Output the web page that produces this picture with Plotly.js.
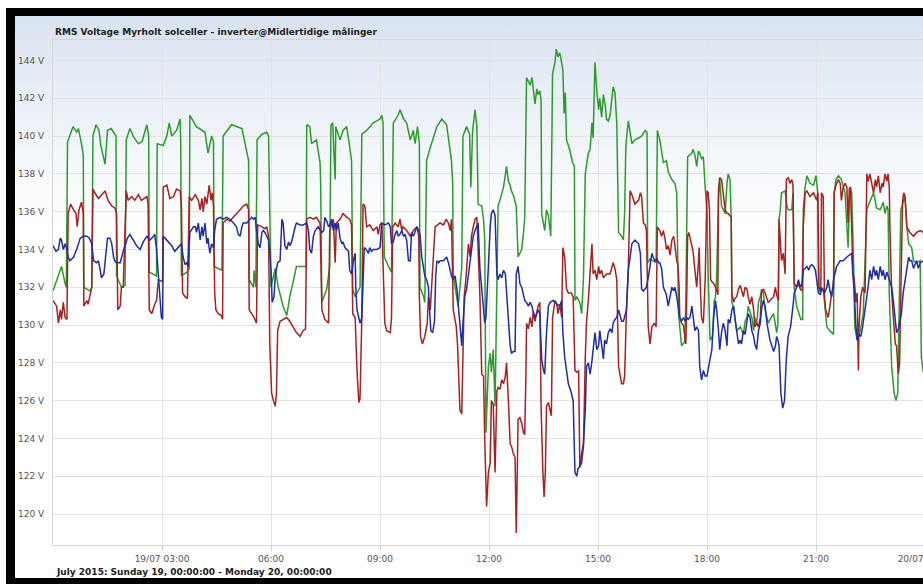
<!DOCTYPE html>
<html><head><meta charset="utf-8">
<script src="https://cdn.plot.ly/plotly-3.0.1.min.js"></script>
<style>
html,body{margin:0;padding:0;overflow:hidden;background:#fff;width:923px;height:584px}
#frame{position:absolute;left:6px;top:8px;width:1100px;height:700px;background:#000}
#chart{position:absolute;left:15px;top:16px;width:1000px;height:562px;background:linear-gradient(to bottom,#d9e2f0 0px,#e9eff7 80px,#ffffff 210px)}
</style></head><body>
<div id="frame"></div><div id="chart"></div>
<script>
// time in minutes after 2015-07-19 00:00, values in volts
const greenT=[0,8,14,20,22,24,33,39,42,47,50,51,55,61,64,66,71,76,79,86,90,96,104,105,113,119,121,127,134,141,147,155,158,159,171,172,182,188,192,196,204,210,211,212,221,225,226,237,251,254,256,262,265,266,279,281,295,312,320,323,324,331,332,335,337,345,353,356,360,367,372,380,386,391,398,402,418,419,424,427,435,441,442,444,452,457,459,462,464,466,467,474,479,485,490,493,495,499,507,510,518,529,540,543,545,547,554,559,562,570,573,579,584,590,595,598,602,605,606,612,614,617,623,634,642,650,658,660,661,669,672,675,677,683,688,690,693,697,700,702,708,711,713,715,719,722,724,727,730,733,735,738,744,749,752,755,757,760,763,765,768,774,777,779,782,785,788,791,793,796,799,801,804,806,807,812,815,818,822,825,829,831,834,837,842,844,846,848,853,858,861,862,865,870,873,876,879,881,884,887,890,892,895,898,901,903,906,909,912,914,917,920,923,925,928,931,934,939,942,944,946,950,956,961,967,972,978,981,982,986,991,996,998,1002,1008,1013,1016,1022,1027,1030,1031,1033,1038,1043,1045,1048,1055,1057,1060,1063,1066,1068,1071,1074,1077,1080,1082,1085,1089,1092,1094,1096,1099,1101,1104,1110,1113,1115,1118,1120,1121,1124,1126,1129,1135,1140,1143,1146,1148,1154,1157,1159,1162,1165,1168,1170,1173,1176,1179,1181,1184,1190,1195,1197,1199,1201,1203,1209,1212,1214,1220,1222,1224,1228,1235,1238,1239,1242,1245,1250,1256,1260,1263,1264,1267,1272,1278,1280,1286,1289,1290,1293,1297,1302,1308,1311,1313,1316,1319,1322,1324,1328,1333,1338,1344,1346,1352,1355,1360,1366,1371,1374,1377,1379,1381,1385,1389,1392,1395,1396,1398,1400,1403,1407,1410,1413,1418,1421,1426,1432,1434,1437];
const greenV=[131.8,132.6,133.1,132.2,132.0,139.7,140.5,140.2,140.4,139.6,139.0,132.0,131.9,131.8,132.0,140.0,140.6,140.3,139.5,138.5,140.3,140.4,140.0,132.6,132.0,132.1,139.8,140.4,139.9,139.6,139.7,140.6,140.0,132.8,132.6,139.6,139.5,140.0,140.7,140.0,140.3,140.9,139.5,132.6,132.8,133.0,141.1,140.5,140.2,139.6,139.1,140.0,139.7,133.1,132.9,140.0,140.6,140.4,139.2,138.7,132.4,132.0,132.9,132.0,139.8,140.1,140.2,140.0,132.0,133.0,132.0,131.0,130.5,131.5,132.5,133.1,133.1,140.6,140.5,139.6,139.8,138.6,137.5,131.2,131.9,133.1,140.6,140.7,139.0,137.7,140.5,139.8,140.3,140.5,139.4,138.7,131.9,131.5,132.0,140.1,140.3,140.7,140.9,141.1,140.7,133.6,133.1,132.8,140.7,141.1,141.4,140.9,140.7,139.8,140.3,139.6,140.5,139.6,132.0,131.5,131.2,138.7,139.4,140.5,140.9,140.6,138.7,137.5,132.6,131.0,132.0,133.0,140.0,140.5,140.1,137.3,140.3,141.4,140.5,136.4,136.3,135.6,134.5,124.3,127.8,128.5,127.5,128.7,125.7,132.7,136.3,136.6,137.3,138.4,137.6,137.4,137.1,136.9,136.6,136.3,133.6,134.0,134.9,135.7,143.1,142.9,142.7,143.1,142.5,141.7,142.5,142.2,142.4,141.9,135.9,135.0,136.1,135.8,134.7,143.3,143.9,144.6,144.2,144.4,143.5,141.2,142.3,139.8,139.3,138.6,138.4,131.3,131.5,131.2,130.6,132.5,138.0,138.5,139.1,139.3,140.7,139.9,143.9,142.4,141.4,142.0,141.0,142.2,141.6,140.9,140.8,141.1,142.1,142.6,142.3,140.7,134.9,134.7,134.5,136.0,139.5,140.8,139.6,139.8,139.9,140.0,140.3,140.2,133.3,133.5,133.4,133.3,140.3,139.8,138.6,138.7,138.1,137.7,137.5,137.0,135.0,130.6,128.9,129.1,131.2,138.9,139.1,139.3,139.0,138.4,139.2,139.1,138.8,138.9,137.3,135.9,132.6,129.2,129.4,131.3,131.5,132.6,136.8,137.7,136.3,135.9,137.5,138.0,137.7,135.7,131.2,130.9,130.4,129.7,129.9,129.5,130.2,130.4,131.0,130.4,129.7,130.4,130.0,131.2,131.5,131.9,131.7,130.8,130.4,130.1,130.3,130.6,129.6,130.0,135.6,136.1,137.0,137.1,136.3,136.1,136.1,137.0,132.0,131.0,130.3,130.3,136.1,137.3,137.9,137.5,137.4,137.9,137.0,132.0,131.8,131.9,129.9,129.8,129.6,129.5,137.0,137.7,137.9,137.7,137.0,135.2,134.1,137.3,137.0,133.4,129.9,129.2,129.7,130.6,136.1,136.3,136.8,137.0,136.2,136.1,136.5,135.9,136.3,136.1,131.7,127.8,126.4,126.0,126.4,128.0,131.3,136.1,136.4,136.8,135.2,134.3,134.1,133.4,133.3,133.4,128.3,127.5];

const redT=[0,6,9,12,14,17,20,23,25,29,34,38,40,43,47,50,51,56,58,61,64,66,69,75,80,86,91,97,102,105,107,111,113,116,121,124,130,135,141,146,155,157,159,163,168,171,174,179,181,182,188,193,199,204,210,212,214,218,222,225,229,235,240,243,246,248,251,254,258,261,263,265,267,269,273,278,280,281,287,292,298,303,309,314,320,323,324,328,332,336,338,345,350,353,356,358,361,364,367,369,371,375,380,386,391,397,402,408,413,417,419,424,430,435,441,444,449,455,457,463,466,468,474,479,485,490,493,495,499,502,505,507,510,512,515,518,523,529,535,537,540,543,546,548,551,557,559,561,565,570,573,576,578,584,590,595,601,604,605,607,610,614,618,620,623,626,631,639,645,649,653,656,658,661,666,668,672,675,677,679,682,686,689,691,694,697,700,702,705,708,711,713,716,719,722,724,727,730,733,735,738,741,744,747,749,752,755,757,760,763,765,767,768,771,774,777,779,781,782,785,788,791,793,796,799,801,804,806,809,811,813,815,818,821,823,825,829,832,834,837,840,842,845,848,851,856,859,862,865,868,870,873,876,879,881,884,887,890,892,895,898,901,903,906,909,914,920,925,928,931,934,937,939,942,944,947,950,953,956,961,967,970,972,975,978,980,982,983,986,989,993,996,998,1002,1005,1008,1011,1013,1016,1019,1022,1025,1027,1030,1032,1034,1035,1038,1041,1044,1045,1046,1048,1050,1053,1057,1060,1063,1066,1067,1068,1071,1074,1077,1080,1082,1084,1086,1088,1091,1094,1096,1098,1099,1101,1104,1107,1110,1113,1115,1120,1121,1124,1126,1129,1132,1135,1137,1140,1143,1146,1148,1151,1154,1157,1159,1162,1165,1168,1170,1173,1176,1179,1181,1184,1190,1193,1195,1198,1199,1201,1203,1206,1209,1211,1214,1217,1220,1222,1224,1228,1231,1234,1237,1239,1242,1245,1250,1256,1259,1261,1263,1265,1268,1269,1272,1274,1276,1280,1283,1286,1289,1290,1293,1297,1300,1302,1305,1308,1311,1313,1315,1317,1321,1323,1326,1328,1330,1331,1334,1337,1341,1344,1346,1349,1352,1355,1358,1360,1363,1366,1369,1371,1374,1377,1379,1381,1382,1385,1388,1391,1393,1396,1398,1400,1403,1405,1407,1410,1413,1415,1421,1426,1432,1437];
const redV=[131.3,131.0,130.1,130.8,130.3,131.2,130.4,130.3,135.9,136.4,136.1,135.9,135.2,136.1,136.5,135.9,131.0,131.3,131.1,131.5,132.0,137.2,137.0,136.7,136.9,137.1,136.6,136.3,136.2,135.9,130.8,131.0,132.0,132.0,137.1,136.6,136.8,136.6,136.9,136.6,136.8,136.4,130.8,130.6,131.1,131.3,132.4,132.3,132.3,137.3,137.4,136.7,136.8,137.2,137.1,136.4,131.7,131.5,131.4,136.8,136.6,136.9,136.6,136.1,136.7,136.0,136.8,136.4,137.4,136.6,137.0,136.3,131.7,130.8,130.6,130.5,130.3,135.4,135.6,135.5,135.7,135.9,136.1,136.3,136.4,136.1,130.8,130.6,130.4,130.1,135.3,135.2,135.1,135.2,134.7,129.0,126.4,126.0,125.7,126.4,129.7,130.2,130.3,130.4,130.2,129.9,129.6,129.4,129.7,129.8,135.6,135.7,135.6,135.7,135.4,130.8,130.3,130.1,135.0,135.6,133.3,135.4,135.6,135.9,135.7,135.6,135.3,130.6,130.4,127.6,125.9,126.1,130.4,136.4,136.3,135.2,135.3,135.0,135.2,134.8,135.3,135.4,131.2,130.1,129.7,129.6,130.4,135.2,135.4,135.2,135.6,135.0,135.2,135.0,134.7,135.0,135.2,134.7,131.5,129.4,129.0,129.4,130.1,131.5,130.8,132.5,135.2,135.4,135.3,135.6,135.4,135.0,135.6,130.8,129.9,129.0,125.5,125.3,129.0,131.5,132.5,134.3,133.6,134.7,135.2,135.6,135.7,134.3,131.5,127.4,127.3,123.9,120.4,122.2,122.7,126.0,125.8,122.2,126.5,126.7,126.6,127.1,126.9,127.3,128.0,126.0,123.7,123.6,123.2,123.0,119.0,122.8,125.0,125.1,124.8,124.3,124.2,127.4,130.1,129.8,130.4,129.9,130.7,130.2,130.6,131.0,131.2,125.7,122.2,120.9,122.2,125.7,125.9,125.4,125.2,130.4,131.3,131.1,130.6,131.1,130.4,134.1,133.6,131.9,131.7,131.7,131.5,127.6,127.5,127.6,122.5,122.7,123.6,128.3,130.1,131.3,133.1,134.3,132.7,132.9,132.4,133.1,132.7,132.9,132.5,132.7,132.7,133.3,133.0,132.4,127.8,127.1,126.9,126.9,127.3,130.8,132.9,137.1,136.9,136.4,136.6,137.0,136.8,135.4,135.3,135.0,132.4,129.9,129.0,129.9,130.1,129.9,135.2,135.0,134.7,135.0,134.5,134.0,134.2,133.7,134.5,134.7,134.2,133.4,133.2,132.0,130.4,130.1,130.0,129.4,129.0,130.4,134.7,134.9,134.5,133.9,132.9,132.0,133.4,134.1,132.9,130.4,130.1,132.4,137.1,137.0,136.1,132.4,132.3,132.2,132.0,131.8,131.6,137.1,137.8,137.7,137.0,136.1,135.9,135.9,135.7,131.7,131.2,131.4,131.5,131.9,132.1,131.9,131.5,132.0,131.9,131.5,131.1,131.5,130.8,129.9,130.1,129.9,130.4,131.7,131.9,131.7,131.4,131.2,131.3,131.5,132.0,131.6,131.3,135.6,134.5,133.4,133.8,132.7,137.7,137.8,137.5,137.7,137.4,132.2,132.0,132.2,131.9,131.8,135.2,137.0,137.1,136.8,137.0,136.8,136.6,137.0,132.0,131.7,137.0,136.8,131.5,130.8,130.4,131.0,131.7,132.0,137.0,137.4,137.7,137.5,136.6,137.3,137.5,137.3,135.4,137.2,137.3,132.7,132.5,131.2,131.7,127.6,129.9,131.5,132.0,131.7,138.0,137.6,138.0,137.5,137.0,137.7,137.3,137.9,137.0,137.5,137.3,138.0,137.6,138.0,137.3,135.2,131.7,130.3,129.0,128.9,127.4,128.0,131.7,136.6,137.0,136.8,135.2,135.0,134.9,134.7,134.9,135.0,134.9];

const blueT=[0,5,9,12,14,17,20,23,25,28,34,39,45,50,56,60,64,67,72,75,78,80,84,88,90,94,97,100,102,105,111,115,119,123,127,133,138,144,149,155,160,166,168,171,174,177,179,181,182,185,190,196,201,207,212,215,218,221,223,226,232,235,237,240,243,246,248,251,254,256,259,262,265,267,270,276,281,287,292,298,303,306,309,312,314,320,325,328,331,334,336,339,342,345,347,350,353,356,358,360,362,365,367,371,375,378,380,383,386,389,391,394,400,402,408,413,419,422,424,427,430,433,438,444,447,449,452,455,457,460,463,466,468,471,474,477,479,482,488,490,493,496,499,500,502,505,507,510,512,514,517,521,523,526,529,535,540,543,548,554,557,559,562,565,568,570,573,576,579,581,584,587,590,592,595,598,601,604,606,609,612,614,617,620,621,624,627,630,632,634,637,639,645,650,653,656,658,661,664,667,669,672,675,677,680,683,686,689,691,694,697,700,702,705,708,711,713,715,719,722,724,727,730,733,735,738,741,744,747,749,752,755,757,760,763,765,768,771,774,777,779,782,785,788,791,793,796,799,801,804,807,810,812,815,818,821,826,832,837,840,842,845,851,856,859,862,865,867,870,873,876,879,881,884,887,890,892,895,898,901,903,906,909,911,914,917,920,923,925,928,931,934,937,939,942,944,947,950,953,956,961,967,970,972,975,978,980,983,986,989,991,994,997,1000,1002,1005,1008,1011,1013,1016,1019,1022,1025,1027,1030,1033,1035,1038,1041,1044,1046,1049,1052,1055,1057,1060,1063,1066,1068,1071,1074,1077,1080,1082,1085,1088,1091,1094,1096,1099,1101,1104,1107,1110,1113,1115,1118,1121,1124,1126,1129,1132,1135,1137,1140,1143,1146,1148,1151,1154,1157,1159,1162,1165,1168,1170,1173,1176,1179,1181,1184,1187,1190,1193,1195,1197,1199,1202,1205,1208,1211,1214,1218,1222,1224,1228,1231,1234,1237,1239,1242,1245,1248,1250,1253,1256,1259,1261,1264,1267,1269,1272,1274,1278,1280,1283,1286,1289,1292,1294,1300,1305,1311,1316,1319,1321,1323,1326,1328,1331,1334,1337,1341,1344,1346,1349,1352,1355,1358,1360,1363,1366,1369,1371,1374,1377,1379,1382,1385,1388,1391,1393,1396,1399,1401,1404,1407,1410,1413,1415,1418,1421,1424,1426,1429,1432,1437];
const blueV=[134.2,133.9,134.0,134.6,134.5,134.0,134.3,134.0,133.6,133.4,133.6,134.0,134.6,134.7,134.7,134.6,134.3,133.4,133.3,133.4,132.9,132.5,132.7,134.0,134.6,134.6,134.3,133.6,133.4,133.3,133.3,133.8,134.2,134.6,134.8,134.5,134.2,134.0,134.4,134.7,134.5,134.7,134.8,134.0,132.6,131.0,130.4,130.3,134.7,134.6,134.4,134.2,133.9,134.1,134.3,133.6,133.2,133.3,133.1,134.9,135.2,135.2,134.9,135.4,134.5,135.2,134.7,135.4,134.3,134.6,133.8,134.3,134.1,135.0,135.6,135.7,135.6,135.7,135.6,135.4,135.2,134.8,134.7,135.2,135.4,135.4,135.6,135.7,135.6,135.7,135.0,134.3,134.1,134.9,135.0,134.9,134.7,134.5,133.8,132.9,131.2,131.5,132.6,133.3,133.4,135.6,135.4,134.2,134.0,134.4,134.2,134.4,135.2,135.4,135.3,135.3,135.4,135.0,134.0,133.8,134.7,135.0,135.2,134.9,135.0,135.7,135.5,135.2,135.3,135.6,135.0,135.4,135.0,135.4,134.6,134.3,134.4,134.1,133.9,132.9,132.7,133.4,133.8,132.0,130.8,130.3,130.1,130.4,132.6,134.1,134.0,133.8,134.1,133.9,134.0,134.0,134.1,135.4,135.3,135.4,135.2,134.3,134.4,134.8,135.0,134.7,134.8,135.0,134.7,134.8,134.5,133.4,133.4,134.9,134.7,135.0,135.2,135.0,134.8,133.6,132.9,132.6,132.4,132.0,131.2,129.7,129.6,130.2,132.6,133.4,133.3,133.4,133.4,133.6,133.3,132.9,132.6,132.4,132.6,131.9,131.2,130.3,128.9,130.1,131.5,131.9,132.6,133.4,134.0,134.7,135.0,135.2,135.4,133.0,131.9,131.0,130.1,130.4,133.6,135.2,135.9,136.1,135.8,132.7,132.4,132.7,132.5,132.9,132.7,131.7,130.1,128.9,128.5,128.6,128.6,132.7,133.1,132.2,132.0,131.5,131.3,131.2,131.0,131.2,131.0,130.7,130.4,130.6,130.8,130.6,128.2,127.6,127.4,129.6,131.0,131.2,131.3,131.1,131.0,131.3,129.6,128.3,126.9,126.4,126.0,122.2,122.0,122.4,122.5,123.2,123.7,125.5,127.8,128.0,127.4,128.1,128.9,129.6,128.7,128.9,129.7,129.0,128.2,129.2,129.0,129.6,129.8,129.6,130.1,130.3,130.4,130.8,130.4,130.2,130.2,130.5,130.8,132.9,133.6,134.3,134.5,134.3,133.8,131.9,131.8,131.9,132.0,132.5,133.1,133.8,133.6,133.4,133.5,133.3,133.3,133.0,132.0,131.8,131.6,131.0,131.6,132.0,131.8,132.0,131.5,130.8,130.4,130.2,130.4,130.2,130.4,130.3,130.4,131.0,130.4,129.7,129.9,129.7,127.8,127.1,127.6,127.3,127.3,127.6,128.2,128.7,130.4,131.3,130.8,129.7,128.7,129.6,130.1,129.7,128.9,130.3,130.1,130.8,131.0,130.4,129.7,129.0,129.2,129.0,129.7,129.5,130.2,130.6,130.4,129.7,129.4,129.0,128.7,129.7,130.1,130.8,131.3,131.0,130.1,129.7,129.2,128.9,128.6,128.9,129.4,129.2,128.9,126.4,125.6,126.0,128.2,129.4,129.9,131.0,131.7,132.0,132.4,132.0,132.2,132.9,133.0,133.1,132.9,133.1,133.2,133.1,132.9,132.4,131.7,131.6,132.0,131.8,131.7,132.0,132.4,131.8,131.5,132.4,132.9,133.1,133.4,133.4,133.6,133.7,133.8,132.6,131.8,129.9,129.2,129.5,129.4,129.9,130.8,131.7,132.0,132.9,132.4,133.1,132.6,132.9,132.4,133.1,132.6,132.9,132.4,132.8,132.6,132.4,132.0,131.2,130.3,129.6,129.8,130.2,130.6,131.7,132.4,133.0,133.6,133.4,133.4,133.0,133.3,133.4,133.0,133.3,133.4];

const xTickVals=['2015-07-19 03:00','2015-07-19 06:00','2015-07-19 09:00','2015-07-19 12:00','2015-07-19 15:00','2015-07-19 18:00','2015-07-19 21:00','2015-07-20 00:00'];
const xTickText=['19/07 03:00','06:00','09:00','12:00','15:00','18:00','21:00','20/07 00:00'];
const yTickVals=[120,122,124,126,128,130,132,134,136,138,140,142,144];
const yTickText=['120 V','122 V','124 V','126 V','128 V','130 V','132 V','134 V','136 V','138 V','140 V','142 V','144 V'];

function pad(n){return (n<10?'0':'')+n;}
function toDate(m){return '2015-07-19 '+pad(Math.floor(m/60))+':'+pad(m%60);}

const FONT='DejaVu Sans, Verdana, sans-serif';
function mk(t,v,color){return {x:t.map(toDate),y:v,type:'scatter',mode:'lines',line:{color:color,width:1.5},hoverinfo:'skip',showlegend:false};}

const data=[mk(greenT,greenV,'#2e9a2e'),mk(redT,redV,'#a32222'),mk(blueT,blueV,'#202ea0')];

const layout={
  width:1000,height:562,
  margin:{l:38,r:90,t:24,b:33},
  paper_bgcolor:'rgba(0,0,0,0)',plot_bgcolor:'rgba(0,0,0,0)',
  showlegend:false,
  title:{text:'<b>RMS Voltage Myrholt solceller - inverter@Midlertidige målinger</b>',font:{family:FONT,size:9,color:'#222'},x:0.04,xref:'container',xanchor:'left',y:0.9715,yref:'container',yanchor:'middle'},
  xaxis:{type:'date',range:['2015-07-19 00:00','2015-07-20 00:00'],tickmode:'array',tickvals:xTickVals,ticktext:xTickText,
    showgrid:true,gridcolor:'#e3e3e3',gridwidth:1,showline:true,linecolor:'#d6d6d6',mirror:true,zeroline:false,
    ticks:'outside',ticklen:5,tickcolor:'#cfcfcf',tickfont:{family:FONT,size:9,color:'#555'},fixedrange:true},
  yaxis:{range:[118.36,145.085],tickmode:'array',tickvals:yTickVals,ticktext:yTickText,
    showgrid:true,gridcolor:'#e3e3e3',gridwidth:1,showline:true,linecolor:'#d6d6d6',zeroline:false,
    ticks:'outside',ticklen:6,tickcolor:'rgba(0,0,0,0)',tickfont:{family:FONT,size:9,color:'#555'},fixedrange:true},
  annotations:[{text:'<b>July 2015: Sunday 19, 00:00:00 - Monday 20, 00:00:00</b>',xref:'paper',yref:'paper',x:0,y:0,xanchor:'left',yanchor:'middle',xshift:1,yshift:-26.5,showarrow:false,font:{family:FONT,size:9,color:'#222'}}]
};
Plotly.newPlot('chart',data,layout,{displayModeBar:false,staticPlot:true});
</script></body></html>
